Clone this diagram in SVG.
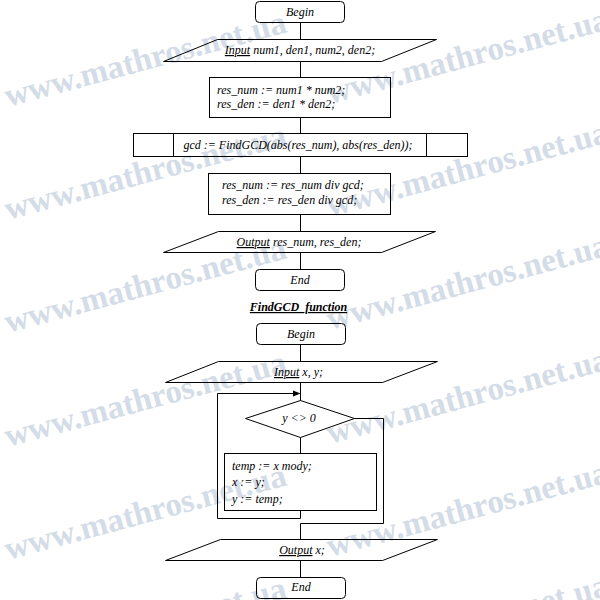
<svg xmlns="http://www.w3.org/2000/svg" width="600" height="600" viewBox="0 0 600 600">
<style>
.s{fill:none;stroke:#000;stroke-width:1}
.t{font-family:"Liberation Serif","Times New Roman",serif;font-style:italic;font-size:12px;fill:#000}
.c{text-anchor:middle}
.u{text-decoration:underline}
.wm{font-family:"Liberation Serif","Times New Roman",serif;font-weight:bold;font-size:33px;fill:#d3dce7}
</style>
<rect width="600" height="600" fill="#fff"/>
<g id="watermark" class="wm">
<text transform="translate(8,107) rotate(-15)">www.mathros.net.ua</text>
<text transform="translate(8,220) rotate(-15)">www.mathros.net.ua</text>
<text transform="translate(8,333) rotate(-15)">www.mathros.net.ua</text>
<text transform="translate(8,447) rotate(-15)">www.mathros.net.ua</text>
<text transform="translate(8,560) rotate(-15)">www.mathros.net.ua</text>
<text transform="translate(8,673) rotate(-15)">www.mathros.net.ua</text>
<text transform="translate(330,104) rotate(-15)">www.mathros.net.ua</text>
<text transform="translate(330,217) rotate(-15)">www.mathros.net.ua</text>
<text transform="translate(330,330) rotate(-15)">www.mathros.net.ua</text>
<text transform="translate(330,444) rotate(-15)">www.mathros.net.ua</text>
<text transform="translate(330,557) rotate(-15)">www.mathros.net.ua</text>
<text transform="translate(330,670) rotate(-15)">www.mathros.net.ua</text>
</g>
<g id="connectors" class="s">
<path d="M300.5 22.5V39.5M300.5 61.5V77.5M300.5 117.5V133.5M300.5 156.5V173.5M300.5 214.5V231.5M300.5 252.5V269.5"/>
<path d="M300.5 344.5V361.5M300.5 382.5V400.5M300.5 437.5V453.5M300.5 560.5V577.5"/>
<path d="M300.5 510.5V518.5H217.5V393.5H294"/>
<path d="M354.5 418.5H383.5V523.5H300.5V539.5"/>
<polygon points="300.5,393.5 293,390.5 293,396.5" fill="#000" stroke="none"/>
</g>
<g id="begin1">
<rect class="s" x="255.5" y="1.5" width="89" height="21" rx="4"/>
<text class="t c" x="300" y="16">Begin</text>
</g>
<g id="input1">
<polygon class="s" points="217.5,39.5 436.5,39.5 381.5,61.5 163.5,61.5"/>
<text class="t c" x="300" y="54"><tspan class="u">Input</tspan> num1, den1, num2, den2;</text>
</g>
<g id="multiply">
<rect class="s" x="209.5" y="77.5" width="181" height="40"/>
<text class="t" x="217" y="94">res_num := num1 * num2;</text>
<text class="t" x="217" y="108">res_den := den1 * den2;</text>
</g>
<g id="callgcd">
<rect class="s" x="133.5" y="133.5" width="334" height="23"/>
<path class="s" d="M173.5 133.5V156.5M426.5 133.5V156.5"/>
<text class="t c" x="298" y="149">gcd := FindGCD(abs(res_num), abs(res_den));</text>
</g>
<g id="divide">
<rect class="s" x="208.5" y="173.5" width="182" height="41"/>
<text class="t" x="222" y="189">res_num := res_num div gcd;</text>
<text class="t" x="222" y="204">res_den := res_den div gcd;</text>
</g>
<g id="output1">
<polygon class="s" points="218.5,231.5 435.5,231.5 381.5,252.5 163.5,252.5"/>
<text class="t c" x="299" y="246"><tspan class="u">Output</tspan> res_num, res_den;</text>
</g>
<g id="end1">
<rect class="s" x="255.5" y="269.5" width="89" height="21" rx="4"/>
<text class="t c" x="300" y="284">End</text>
</g>
<g id="title">
<text class="t c u" x="298.5" y="311" font-weight="bold">FindGCD_function</text>
</g>
<g id="begin2">
<rect class="s" x="256.5" y="323.5" width="89" height="21" rx="4"/>
<text class="t c" x="301" y="338">Begin</text>
</g>
<g id="input2">
<polygon class="s" points="218.5,361.5 437.5,361.5 382.5,382.5 165.5,382.5"/>
<text class="t c" x="298.5" y="376"><tspan class="u">Input</tspan> x, y;</text>
</g>
<g id="condition">
<polygon class="s" points="300.5,400.5 354.5,418.5 300.5,437.5 245.5,418.5"/>
<text class="t c" x="299" y="422">y &lt;&gt; 0</text>
</g>
<g id="loopbody">
<rect class="s" x="224.5" y="453.5" width="152" height="57"/>
<text class="t" x="232" y="470">temp := x mody;</text>
<text class="t" x="232" y="486">x := y;</text>
<text class="t" x="232" y="503">y := temp;</text>
</g>
<g id="output2">
<polygon class="s" points="220.5,539.5 437.5,539.5 382.5,560.5 165.5,560.5"/>
<text class="t c" x="302" y="554"><tspan class="u">Output</tspan> x;</text>
</g>
<g id="end2">
<rect class="s" x="256.5" y="577.5" width="89" height="21" rx="4"/>
<text class="t c" x="301" y="591">End</text>
</g>
</svg>
